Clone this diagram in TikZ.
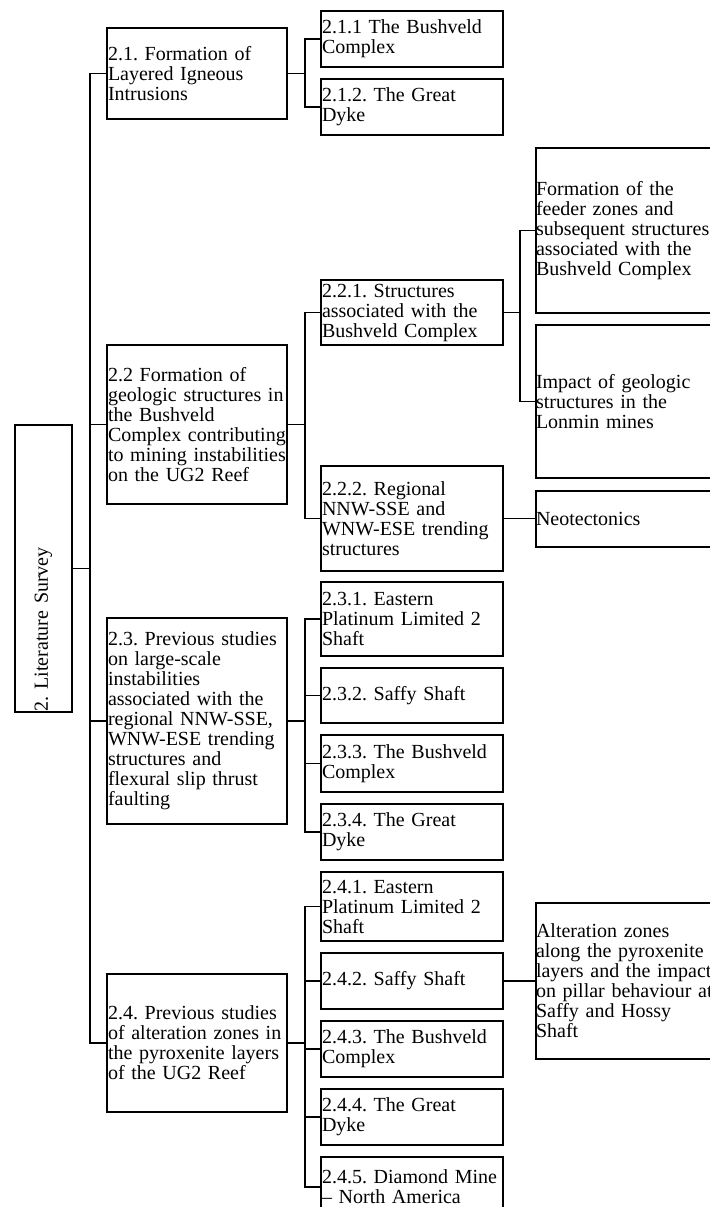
\documentclass[tikz,border=0pt]{standalone}
\usepackage{fontspec}
\setmainfont{Liberation Serif}
\usepackage{tikz}
\usetikzlibrary{positioning}
\hyphenpenalty=10000
\exhyphenpenalty=10000
\frenchspacing
\tikzstyle{block} = [rectangle, draw, line width=1pt, text width=89pt, align=left,
    inner xsep=0.5pt, inner ysep=0pt, anchor=north west, font=\fontsize{10}{10}\selectfont]
\tikzstyle{sub} = [block, text width=90pt, minimum height=28pt]
\tikzstyle{leaf} = [block, inner xsep=0pt, text width=100pt]
\tikzstyle{line} = [draw, line width=0.8pt]

\begin{document}
\begin{tikzpicture}[x=0.5pt, y=-0.5pt]
        \path [use as bounding box, clip] (0,0) rectangle (710,1207);
        % nodes
        \node [block, rotate=90, anchor=center, text width=142.5pt, minimum height=28.5pt] (root) at (43.5,568.5) {2. Literature Survey};
        \node [block, minimum height=45.5pt] (s21) at (106,27) {2.1. Formation of\\Layered Igneous\\Intrusions};
        \node [block, minimum height=79.5pt] (s22) at (106,344) {2.2 Formation of\\\mbox{geologic structures in}\\the Bushveld\\\mbox{Complex contributing}\\\mbox{to mining instabilities}\\on the UG2 Reef};
        \node [block, minimum height=103pt] (s23) at (106,617) {2.3. Previous studies\\on large-scale\\instabilities\\associated with the\\\mbox{regional NNW-SSE,}\\\mbox{WNW-ESE trending}\\structures and\\flexural slip thrust\\faulting};
        \node [block, minimum height=69pt] (s24) at (106,973) {\mbox{2.4. Previous studies}\\\mbox{of alteration zones in}\\\mbox{the pyroxenite layers}\\of the UG2 Reef};
        \node [sub] (s211) at (320,10) {2.1.1 The Bushveld\\Complex};
        \node [sub, below=5pt of s211] (s212) {2.1.2. The Great\\Dyke};
        \node [sub, minimum height=32.5pt] (s221) at (320,279) {2.2.1. Structures\\associated with the\\Bushveld Complex};
        \node [sub, minimum height=52.5pt] (s222) at (320,465) {2.2.2. Regional\\NNW-SSE and\\\mbox{WNW-ESE trending}\\structures};
        \node [sub, minimum height=37pt] (s231) at (320,581) {2.3.1. Eastern\\\mbox{Platinum Limited 2}\\Shaft};
        \node [sub, minimum height=27.5pt, below=5pt of s231] (s232) {2.3.2. Saffy Shaft};
        \node [sub, minimum height=28.5pt, below=5pt of s232] (s233) {\mbox{2.3.3. The Bushveld}\\Complex};
        \node [sub, below=5pt of s233] (s234) {2.3.4. The Great\\Dyke};
        \node [sub, minimum height=34.5pt] (s241) at (320,871) {2.4.1. Eastern\\\mbox{Platinum Limited 2}\\Shaft};
        \node [sub, below=5pt of s241] (s242) {2.4.2. Saffy Shaft};
        \node [sub, below=5pt of s242] (s243) {\mbox{2.4.3. The Bushveld}\\Complex};
        \node [sub, below=5pt of s243] (s244) {2.4.4. The Great\\Dyke};
        \node [sub, minimum height=30pt, below=5pt of s244] (s245) {\mbox{2.4.5. Diamond Mine}\\– North America};
        \node [leaf, minimum height=82.5pt] (feeder) at (535,147) {Formation of the\\feeder zones and\\\mbox{subsequent structures}\\associated with the\\Bushveld Complex};
        \node [leaf, minimum height=76.5pt] (impact) at (535,324) {Impact of geologic\\structures in the\\Lonmin mines};
        \node [leaf, minimum height=28pt] (neo) at (535,489.5) {Neotectonics};
        \node [leaf, minimum height=78pt] (alter) at (535,902) {Alteration zones\\\mbox{along the pyroxenite}\\\mbox{layers and the impact}\\\mbox{on pillar behaviour at}\\Saffy and Hossy\\Shaft};
        % edges
        \path [line] (root.south) -- ++(17,0) |- (s21.west);
        \path [line] (root.south) -- ++(17,0) |- (s22.west);
        \path [line] (root.south) -- ++(17,0) |- (s23.west);
        \path [line] (root.south) -- ++(17,0) |- (s24.west);
        \path [line] (s21.east) -- ++(17,0) |- (s211.west);
        \path [line] (s21.east) -- ++(17,0) |- (s212.west);
        \path [line] (s22.east) -- ++(17,0) |- (s221.west);
        \path [line] (s22.east) -- ++(17,0) |- (s222.west);
        \path [line] (s23.east) -- ++(17,0) |- (s231.west);
        \path [line] (s23.east) -- ++(17,0) |- (s232.west);
        \path [line] (s23.east) -- ++(17,0) |- (s233.west);
        \path [line] (s23.east) -- ++(17,0) |- (s234.west);
        \path [line] (s24.east) -- ++(17,0) |- (s241.west);
        \path [line] (s24.east) -- ++(17,0) |- (s242.west);
        \path [line] (s24.east) -- ++(17,0) |- (s243.west);
        \path [line] (s24.east) -- ++(17,0) |- (s244.west);
        \path [line] (s24.east) -- ++(17,0) |- (s245.west);
        \path [line] (s221.east) -- ++(16,0) |- (feeder.west);
        \path [line] (s221.east) -- ++(16,0) |- (impact.west);
        \path [line] (s222.east) -- (neo.west);
        \path [line] (s242.east) -- (alter.west);
    \end{tikzpicture}
\end{document}
